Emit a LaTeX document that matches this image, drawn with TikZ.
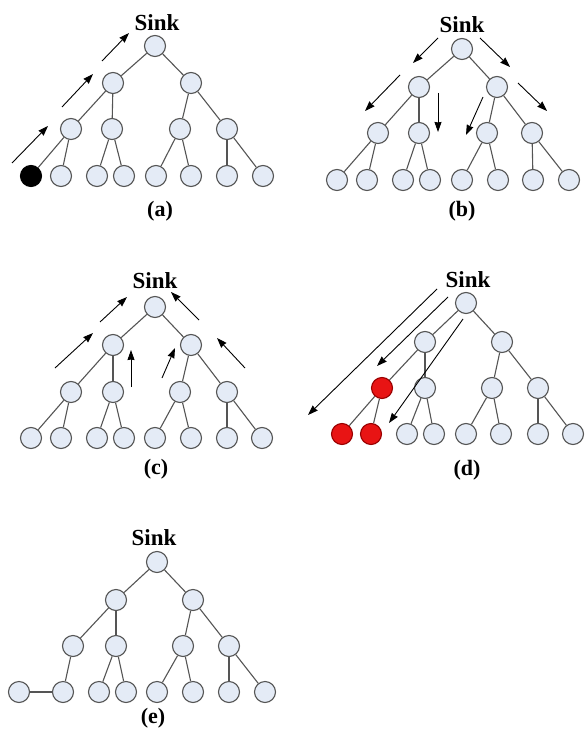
\documentclass[tikz,border=0pt]{standalone}
\usepackage{fontspec}
\setmainfont{Liberation Serif}
\usetikzlibrary{arrows.meta}
\definecolor{nodefill}{HTML}{E4EBF6}
\definecolor{nodeline}{HTML}{555555}
\definecolor{redfill}{HTML}{E81414}
\tikzset{
  nd/.style={circle,draw=nodeline,fill=nodefill,line width=1.1pt,minimum size=21pt,inner sep=0pt},
  blknd/.style={nd,fill=black,draw=black},
  rednd/.style={nd,fill=redfill,draw=red!60!black},
  edge/.style={draw=nodeline,line width=1.1pt},
  arr/.style={draw=black,line width=0.9pt,-{Stealth[length=10pt,width=7pt,inset=0.5pt]}},
  sinklbl/.style={font=\fontsize{23}{23}\selectfont\bfseries,inner sep=0pt},
  caplbl/.style={font=\fontsize{22}{22}\selectfont\bfseries,inner sep=0pt}
}
\begin{document}
\begin{tikzpicture}[x=1pt,y=-1pt]
\useasboundingbox[fill=white] (0,0) rectangle (585,735);
% ---------- panel (a)
\node[sinklbl] (aS) at (157,23) {Sink};
\node[nd] (a0) at (155,46) {};
\node[nd] (a1) at (113,83) {};
\node[nd] (a2) at (191,83) {};
\node[nd] (a3) at (71,129) {};
\node[nd] (a4) at (112,129) {};
\node[nd] (a5) at (180,129) {};
\node[nd] (a6) at (227,129) {};
\node[blknd] (a7) at (31,176) {};
\node[nd] (a8) at (61,176) {};
\node[nd] (a9) at (97,176) {};
\node[nd] (a10) at (124,176) {};
\node[nd] (a11) at (156,176) {};
\node[nd] (a12) at (191,176) {};
\node[nd] (a13) at (227,176) {};
\node[nd] (a14) at (263,176) {};
\node[caplbl] (aL) at (160,211) {(a)};
% ---------- panel (b)
\node[sinklbl] (bS) at (462,25) {Sink};
\node[nd] (b0) at (462,49) {};
\node[nd] (b1) at (419,87) {};
\node[nd] (b2) at (497,87) {};
\node[nd] (b3) at (378,133) {};
\node[nd] (b4) at (419,133) {};
\node[nd] (b5) at (487,133) {};
\node[nd] (b6) at (532,133) {};
\node[nd] (b7) at (337,180) {};
\node[nd] (b8) at (367,180) {};
\node[nd] (b9) at (403,180) {};
\node[nd] (b10) at (430,180) {};
\node[nd] (b11) at (462,180) {};
\node[nd] (b12) at (498,180) {};
\node[nd] (b13) at (533,180) {};
\node[nd] (b14) at (569,180) {};
\node[caplbl] (bL) at (462,211) {(b)};
% ---------- panel (c)
\node[sinklbl] (cS) at (155,281) {Sink};
\node[nd] (c0) at (155,307) {};
\node[nd] (c1) at (113,345) {};
\node[nd] (c2) at (191,345) {};
\node[nd] (c3) at (71,392) {};
\node[nd] (c4) at (113,392) {};
\node[nd] (c5) at (180,392) {};
\node[nd] (c6) at (227,392) {};
\node[nd] (c7) at (31,438) {};
\node[nd] (c8) at (61,438) {};
\node[nd] (c9) at (97,438) {};
\node[nd] (c10) at (124,438) {};
\node[nd] (c11) at (155,438) {};
\node[nd] (c12) at (191,438) {};
\node[nd] (c13) at (227,438) {};
\node[nd] (c14) at (262,438) {};
\node[caplbl] (cL) at (156,469) {(c)};
% ---------- panel (d)
\node[sinklbl] (dS) at (468,280) {Sink};
\node[nd] (d0) at (466,303) {};
\node[nd] (d1) at (425,342) {};
\node[nd] (d2) at (502,342) {};
\node[rednd] (d3) at (382,388) {};
\node[nd] (d4) at (425,388) {};
\node[nd] (d5) at (492,388) {};
\node[nd] (d6) at (538,388) {};
\node[rednd] (d7) at (342,434) {};
\node[rednd] (d8) at (371,434) {};
\node[nd] (d9) at (407,434) {};
\node[nd] (d10) at (434,434) {};
\node[nd] (d11) at (466,434) {};
\node[nd] (d12) at (501,434) {};
\node[nd] (d13) at (538,434) {};
\node[nd] (d14) at (573,434) {};
\node[caplbl] (dL) at (467,470) {(d)};
% ---------- panel (e)
\node[sinklbl] (eS) at (154,538) {Sink};
\node[nd] (e0) at (157,562) {};
\node[nd] (e1) at (116,600) {};
\node[nd] (e2) at (193,600) {};
\node[nd] (e3) at (73,646) {};
\node[nd] (e4) at (116,646) {};
\node[nd] (e5) at (183,646) {};
\node[nd] (e6) at (229,646) {};
\node[nd] (e7) at (19,692) {};
\node[nd] (e8) at (63,692) {};
\node[nd] (e9) at (99,692) {};
\node[nd] (e10) at (126,692) {};
\node[nd] (e11) at (157,692) {};
\node[nd] (e12) at (193,692) {};
\node[nd] (e13) at (229,692) {};
\node[nd] (e14) at (265,692) {};
\node[caplbl] (eL) at (153,718) {(e)};
% ---------- tree edges
\foreach \p in {a,b,c,d}{
  \foreach \u/\v in {0/1,0/2,1/3,1/4,2/5,2/6,3/7,3/8,4/9,4/10,5/11,5/12,6/13,6/14}{
    \draw[edge] (\p\u) -- (\p\v);
  }
}
\foreach \u/\v in {0/1,0/2,1/3,1/4,2/5,2/6,3/8,4/9,4/10,5/11,5/12,6/13,6/14}{
  \draw[edge] (e\u) -- (e\v);
}
\draw[edge] (e7) -- (e8);
% ---------- arrows (a)
\coordinate (aA1s) at (12,163);  \coordinate (aA1e) at (48,126);
\coordinate (aA2s) at (62,107);  \coordinate (aA2e) at (93,74);
\coordinate (aA3s) at (102,61);  \coordinate (aA3e) at (129,33);
\draw[arr] (aA1s) -- (aA1e);
\draw[arr] (aA2s) -- (aA2e);
\draw[arr] (aA3s) -- (aA3e);
% ---------- arrows (b)
\coordinate (bA1s) at (438,38);  \coordinate (bA1e) at (413,63);
\coordinate (bA2s) at (480,38);  \coordinate (bA2e) at (510,67);
\coordinate (bA3s) at (400,75);  \coordinate (bA3e) at (365,111);
\coordinate (bA4s) at (438,93);  \coordinate (bA4e) at (438,132);
\coordinate (bA5s) at (483,97);  \coordinate (bA5e) at (466,135);
\coordinate (bA6s) at (518,83);  \coordinate (bA6e) at (547,111);
\foreach \i in {1,...,6}{\draw[arr] (bA\i s) -- (bA\i e);}
% ---------- arrows (c)
\coordinate (cA1s) at (55,368);  \coordinate (cA1e) at (93,333);
\coordinate (cA2s) at (100,322); \coordinate (cA2e) at (127,297);
\coordinate (cA3s) at (131,387); \coordinate (cA3e) at (131,350);
\coordinate (cA4s) at (162,378); \coordinate (cA4e) at (175,348);
\coordinate (cA5s) at (245,368); \coordinate (cA5e) at (217,338);
\coordinate (cA6s) at (199,320); \coordinate (cA6e) at (171,292);
\foreach \i in {1,...,6}{\draw[arr] (cA\i s) -- (cA\i e);}
% ---------- arrows (d)
\coordinate (dA1s) at (437,289); \coordinate (dA1e) at (308,415);
\coordinate (dA2s) at (448,297); \coordinate (dA2e) at (377,366);
\coordinate (dA3s) at (463,319); \coordinate (dA3e) at (389,423);
\foreach \i in {1,2,3}{\draw[arr] (dA\i s) -- (dA\i e);}
\end{tikzpicture}
\end{document}
